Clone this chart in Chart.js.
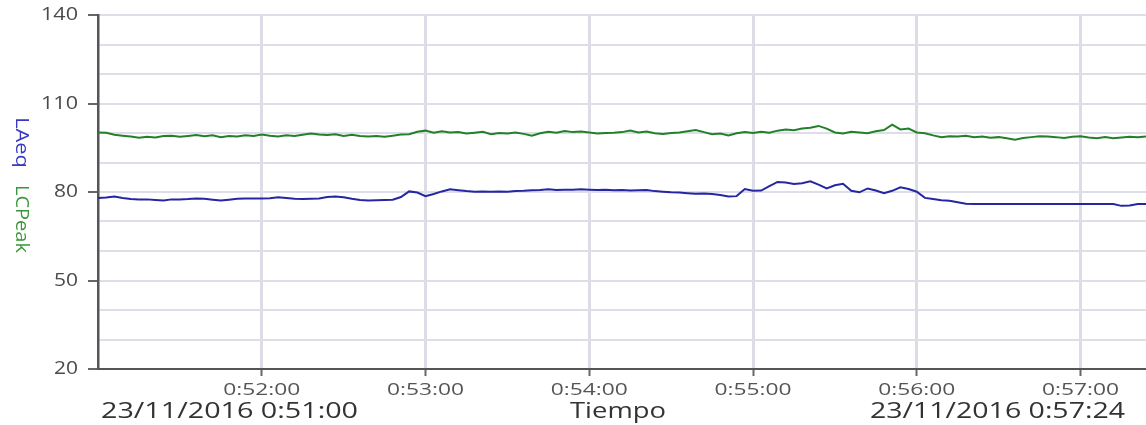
<!DOCTYPE html>
<html><head><meta charset="utf-8">
<script src="https://cdn.jsdelivr.net/npm/chart.js@4"></script>
<style>html,body{margin:0;padding:0;background:#fff}#wrap{width:1146px;height:425px}</style>
</head><body><div id="wrap"><canvas id="c" width="1146" height="425"></canvas></div>
<script>
// ---- data ----
const sampleStepSeconds = 3;
const startLabel = '23/11/2016 0:51:00';
const endLabel = '23/11/2016 0:57:24';
const xAxisTitle = 'Tiempo';
const xTickSeconds = [60, 120, 180, 240, 300, 360];
const xTickLabels = ['0:52:00', '0:53:00', '0:54:00', '0:55:00', '0:56:00', '0:57:00'];
const yTickValues = [20, 50, 80, 110, 140];
const seriesNames = ['LAeq', 'LCPeak'];

const laeq = [
  78.0,78.1,78.5,78.0,77.6,77.5,77.5,77.3,77.1,77.5,
  77.5,77.6,77.8,77.7,77.4,77.1,77.4,77.7,77.8,77.8,
  77.8,77.9,78.2,78.0,77.7,77.6,77.7,77.8,78.3,78.5,
  78.2,77.7,77.3,77.1,77.2,77.3,77.4,78.3,80.2,79.8,
  78.6,79.3,80.2,80.9,80.6,80.3,80.1,80.2,80.1,80.2,
  80.1,80.3,80.4,80.6,80.7,80.9,80.7,80.8,80.8,80.9,
  80.8,80.7,80.8,80.6,80.7,80.5,80.6,80.7,80.3,80.1,
  79.9,79.8,79.6,79.4,79.5,79.3,79.0,78.5,78.6,81.0,
  80.4,80.5,82.0,83.4,83.2,82.7,83.0,83.6,82.5,81.2,
  82.3,82.8,80.4,79.9,81.2,80.5,79.6,80.4,81.6,81.0,
  80.1,78.0,77.6,77.2,77.0,76.5,76.0,
  75.9,75.9,75.9,75.9,75.9,75.9,75.9,75.9,75.9,75.9,75.9,
  75.9,75.9,75.9,75.9,75.9,75.9,75.9,75.3,75.4,75.9,75.9
];
const lcpeak = [
  100.2,100.1,99.4,99.1,98.8,98.4,98.7,98.5,99.0,99.1,
  98.7,99.0,99.3,98.9,99.2,98.6,99.0,98.8,99.2,99.0,
  99.5,99.1,98.8,99.2,99.0,99.4,99.8,99.5,99.3,99.6,
  99.0,99.4,99.0,98.8,99.0,98.7,99.1,99.5,99.6,100.4,
  100.8,100.1,100.6,100.2,100.3,99.8,100.1,100.4,99.6,100.0,
  99.8,100.2,99.7,99.1,99.9,100.4,100.1,100.7,100.3,100.5,
  100.2,99.8,100.0,100.1,100.3,100.8,100.2,100.5,99.9,99.7,
  100.0,100.2,100.6,101.0,100.3,99.6,99.8,99.2,99.9,100.3,
  100.0,100.4,100.1,100.8,101.2,100.9,101.5,101.8,102.4,101.5,
  100.2,99.8,100.4,100.2,99.9,100.6,101.0,102.8,101.2,101.5,
  100.2,99.9,99.2,98.6,98.9,98.8,99.1,98.6,98.8,98.4,
  98.6,98.2,97.7,98.3,98.6,98.9,98.8,98.6,98.3,98.7,
  98.9,98.5,98.2,98.6,98.2,98.5,98.7,98.6,98.8
];

const toPoints = arr => arr.map((v, i) => ({ x: i * sampleStepSeconds, y: v }));
const totalSeconds = 384;

const FONT = '"Open Sans", "Noto Sans", sans-serif';
function fitText(ctx, text, x, y, size, targetW, align, color) {
  ctx.save();
  ctx.font = size + 'px ' + FONT;
  ctx.fillStyle = color;
  ctx.textBaseline = 'middle';
  const w = ctx.measureText(text).width;
  const s = targetW / w;
  let left = x;
  if (align === 'center') left = x - targetW / 2;
  else if (align === 'right') left = x - targetW;
  ctx.translate(left, y);
  ctx.scale(s, 1);
  ctx.textAlign = 'left';
  ctx.fillText(text, 0, 0);
  ctx.restore();
}

const textPlugin = {
  id: 'texts',
  afterDraw(chart) {
    const ctx = chart.ctx;
    const xs = chart.scales.x, ys = chart.scales.y;
    xTickSeconds.forEach((t, i) => {
      fitText(ctx, xTickLabels[i], xs.getPixelForValue(t), 390, 16, 77, 'center', '#555');
    });
    yTickValues.forEach(v => {
      const lbl = String(v);
      const w = lbl.length === 3 ? 37 : 24;
      fitText(ctx, lbl, 78, ys.getPixelForValue(v), 19, w, 'right', '#4a4a4a');
    });
    fitText(ctx, startLabel, 101, 412, 22, 257, 'left', '#333');
    fitText(ctx, xAxisTitle, 618, 412, 22, 96, 'center', '#333');
    fitText(ctx, endLabel, 1125, 412, 22, 255, 'right', '#333');
    const titles = [
      { text: seriesNames[0], cy: 142.5, len: 51, color: '#3a3ac0' },
      { text: seriesNames[1], cy: 219, len: 68, color: '#3a963a' }
    ];
    titles.forEach(tt => {
      ctx.save();
      ctx.translate(21, tt.cy);
      ctx.rotate(Math.PI / 2);
      fitText(ctx, tt.text, 0, 0, 18, tt.len, 'center', tt.color);
      ctx.restore();
    });
  }
};

new Chart(document.getElementById('c').getContext('2d'), {
  type: 'line',
  data: {
    datasets: [
      { label: seriesNames[1], data: toPoints(lcpeak), borderColor: '#23802a', borderWidth: 2, pointRadius: 0, tension: 0 },
      { label: seriesNames[0], data: toPoints(laeq), borderColor: '#2626a2', borderWidth: 2, pointRadius: 0, tension: 0 }
    ]
  },
  options: {
    responsive: false,
    animation: false,
    layout: { padding: { top: 15, right: 0, left: 0, bottom: 0 } },
    plugins: { legend: { display: false }, tooltip: { enabled: false } },
    scales: {
      x: {
        type: 'linear', min: 0, max: totalSeconds,
        afterBuildTicks: s => { s.ticks = xTickSeconds.map(v => ({ value: v })); },
        ticks: { display: false },
        grid: { color: '#dcdce6', lineWidth: 3, tickLength: 7, tickColor: '#666', tickWidth: 2 },
        border: { color: '#555', width: 2 },
        afterFit: s => { s.height = 56; }
      },
      y: {
        min: 20, max: 140,
        ticks: { display: false, stepSize: 10 },
        grid: {
          color: '#dedee8', lineWidth: 2, tickLength: 10, tickWidth: 2,
          tickColor: c => (c.tick && (c.tick.value - 20) % 30 === 0) ? '#666' : 'rgba(0,0,0,0)'
        },
        border: { color: '#555', width: 2.5 },
        afterFit: s => { s.width = 98; }
      }
    }
  },
  plugins: [textPlugin]
});
</script>
</body></html>
